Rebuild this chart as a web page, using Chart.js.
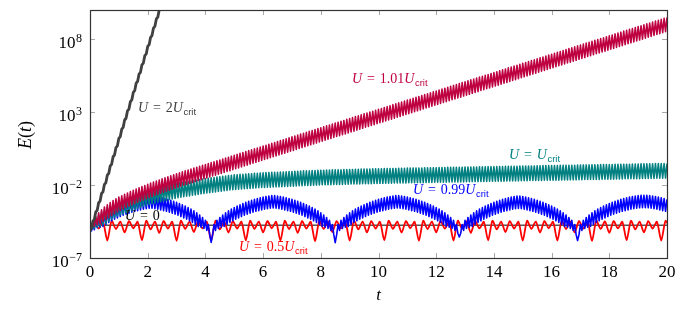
<!DOCTYPE html>
<html>
<head>
<meta charset="utf-8">
<script src="https://cdn.jsdelivr.net/npm/chart.js@4.4.0/dist/chart.umd.min.js"></script>
<style>
html, body { margin: 0; padding: 0; background: #fff; }
</style>
</head>
<body>
<canvas id="chart1" width="693" height="316"></canvas>
<script>
/* data: log10 of E(t). Fast curves are kept as peaks (at t = 0, 0.1, 0.2 ...)
   and troughs (at t = 0.05, 0.15 ...) */

var xTicks = [0, 2, 4, 6, 8, 10, 12, 14, 16, 18, 20];
var yTickExps = [-7, -2, 3, 8];

var dtHalf = 0.05;
var dtGray = 0.05;
var dtRed = 0.15;

// U = 2 U_crit
var logGray = [
  -5.1, -4.99, -4.47, -4.36, -3.84, -3.73, -3.21, -3.1, -2.58, -2.47,
  -1.95, -1.84, -1.32, -1.21, -0.69, -0.58, -0.06, 0.06, 0.57, 0.69,
  1.2, 1.32, 1.83, 1.95, 2.46, 2.58, 3.09, 3.21, 3.72, 3.84,
  4.35, 4.47, 4.98, 5.1, 5.61, 5.73, 6.24, 6.36, 6.87, 6.99,
  7.5, 7.62, 8.13, 8.25, 8.76, 8.88, 9.39, 9.51, 10.02, 10.14, 10.65
];

// U = 1.01 U_crit
var crimsonPeaks = [
  -5.1, -4.5, -4.15, -3.9, -3.7, -3.5, -3.35, -3.2, -3.07, -2.95, -2.83,
  -2.73, -2.63, -2.54, -2.45, -2.36, -2.27, -2.19, -2.11, -2.03, -1.95,
  -1.87, -1.8, -1.72, -1.65, -1.57, -1.5, -1.43, -1.36, -1.29, -1.22,
  -1.16, -1.09, -1.03, -0.97, -0.91, -0.84, -0.78, -0.72, -0.65, -0.59,
  -0.53, -0.46, -0.4, -0.34, -0.28, -0.21, -0.15, -0.09, -0.02, 0.04,
  0.1, 0.17, 0.23, 0.29, 0.36, 0.42, 0.48, 0.54, 0.61, 0.67,
  0.73, 0.8, 0.86, 0.92, 0.99, 1.05, 1.11, 1.17, 1.24, 1.3,
  1.36, 1.43, 1.49, 1.55, 1.62, 1.68, 1.74, 1.8, 1.87, 1.93,
  1.99, 2.06, 2.12, 2.18, 2.25, 2.31, 2.37, 2.43, 2.5, 2.56,
  2.62, 2.69, 2.75, 2.81, 2.88, 2.94, 3.0, 3.06, 3.13, 3.19,
  3.25, 3.32, 3.38, 3.44, 3.51, 3.57, 3.63, 3.69, 3.76, 3.82,
  3.88, 3.95, 4.01, 4.07, 4.14, 4.2, 4.26, 4.32, 4.39, 4.45,
  4.51, 4.58, 4.64, 4.7, 4.77, 4.83, 4.89, 4.95, 5.02, 5.08,
  5.14, 5.21, 5.27, 5.33, 5.4, 5.46, 5.52, 5.58, 5.65, 5.71,
  5.77, 5.84, 5.9, 5.96, 6.03, 6.09, 6.15, 6.21, 6.28, 6.34,
  6.4, 6.47, 6.53, 6.59, 6.66, 6.72, 6.78, 6.84, 6.91, 6.97,
  7.03, 7.1, 7.16, 7.22, 7.29, 7.35, 7.41, 7.47, 7.54, 7.6,
  7.66, 7.73, 7.79, 7.85, 7.92, 7.98, 8.04, 8.1, 8.17, 8.23,
  8.29, 8.36, 8.42, 8.48, 8.55, 8.61, 8.67, 8.73, 8.8, 8.86,
  8.92, 8.99, 9.05, 9.11, 9.18, 9.24, 9.3, 9.36, 9.43, 9.49
];
var crimsonTroughs = [
  -5.0, -4.82, -4.72, -4.65, -4.5, -4.37, -4.23, -4.09, -3.96, -3.84,
  -3.73, -3.63, -3.54, -3.45, -3.36, -3.27, -3.18, -3.1, -3.02, -2.94,
  -2.86, -2.79, -2.71, -2.64, -2.56, -2.49, -2.42, -2.35, -2.28, -2.21,
  -2.14, -2.08, -2.01, -1.95, -1.89, -1.83, -1.76, -1.7, -1.64, -1.57,
  -1.51, -1.45, -1.38, -1.32, -1.26, -1.2, -1.13, -1.07, -1.01, -0.94,
  -0.88, -0.82, -0.75, -0.69, -0.63, -0.56, -0.5, -0.44, -0.38, -0.31,
  -0.25, -0.19, -0.12, -0.06, 0.0, 0.07, 0.13, 0.19, 0.25, 0.32,
  0.38, 0.44, 0.51, 0.57, 0.63, 0.7, 0.76, 0.82, 0.88, 0.95,
  1.01, 1.07, 1.14, 1.2, 1.26, 1.33, 1.39, 1.45, 1.51, 1.58,
  1.64, 1.7, 1.77, 1.83, 1.89, 1.96, 2.02, 2.08, 2.14, 2.21,
  2.27, 2.33, 2.4, 2.46, 2.52, 2.59, 2.65, 2.71, 2.77, 2.84,
  2.9, 2.96, 3.03, 3.09, 3.15, 3.22, 3.28, 3.34, 3.4, 3.47,
  3.53, 3.59, 3.66, 3.72, 3.78, 3.85, 3.91, 3.97, 4.03, 4.1,
  4.16, 4.22, 4.29, 4.35, 4.41, 4.48, 4.54, 4.6, 4.66, 4.73,
  4.79, 4.85, 4.92, 4.98, 5.04, 5.11, 5.17, 5.23, 5.29, 5.36,
  5.42, 5.48, 5.55, 5.61, 5.67, 5.74, 5.8, 5.86, 5.92, 5.99,
  6.05, 6.11, 6.18, 6.24, 6.3, 6.37, 6.43, 6.49, 6.55, 6.62,
  6.68, 6.74, 6.81, 6.87, 6.93, 7.0, 7.06, 7.12, 7.18, 7.25,
  7.31, 7.37, 7.44, 7.5, 7.56, 7.63, 7.69, 7.75, 7.81, 7.88,
  7.94, 8.0, 8.07, 8.13, 8.19, 8.26, 8.32, 8.38, 8.44, 8.51
];

// U = U_crit
var tealPeaks = [
  -5.1, -4.65, -4.3, -4.05, -3.85, -3.68, -3.53, -3.4, -3.28, -3.17, -3.07,
  -3.0, -2.93, -2.85, -2.78, -2.71, -2.64, -2.57, -2.49, -2.42, -2.35,
  -2.3, -2.26, -2.21, -2.16, -2.12, -2.07, -2.02, -1.97, -1.93, -1.88,
  -1.85, -1.81, -1.78, -1.75, -1.72, -1.68, -1.65, -1.62, -1.58, -1.55,
  -1.53, -1.5, -1.48, -1.45, -1.43, -1.4, -1.38, -1.35, -1.33, -1.3,
  -1.29, -1.27, -1.26, -1.24, -1.23, -1.22, -1.2, -1.19, -1.17, -1.16,
  -1.15, -1.14, -1.13, -1.12, -1.12, -1.11, -1.1, -1.09, -1.08, -1.07,
  -1.06, -1.05, -1.04, -1.03, -1.03, -1.02, -1.01, -1.0, -0.99, -0.98,
  -0.98, -0.97, -0.97, -0.96, -0.96, -0.95, -0.95, -0.94, -0.94, -0.93,
  -0.93, -0.92, -0.92, -0.91, -0.91, -0.9, -0.9, -0.89, -0.89, -0.88,
  -0.88, -0.87, -0.87, -0.87, -0.86, -0.86, -0.85, -0.85, -0.85, -0.84,
  -0.84, -0.84, -0.83, -0.83, -0.83, -0.82, -0.82, -0.82, -0.81, -0.81,
  -0.8, -0.8, -0.8, -0.79, -0.79, -0.79, -0.78, -0.78, -0.78, -0.77,
  -0.77, -0.76, -0.76, -0.76, -0.75, -0.75, -0.75, -0.74, -0.74, -0.74,
  -0.73, -0.73, -0.73, -0.72, -0.72, -0.71, -0.71, -0.71, -0.7, -0.7,
  -0.7, -0.69, -0.69, -0.69, -0.68, -0.68, -0.67, -0.67, -0.67, -0.66,
  -0.66, -0.66, -0.65, -0.65, -0.65, -0.64, -0.64, -0.64, -0.63, -0.63,
  -0.62, -0.62, -0.62, -0.61, -0.61, -0.61, -0.6, -0.6, -0.6, -0.59,
  -0.59, -0.58, -0.58, -0.58, -0.57, -0.57, -0.57, -0.56, -0.56, -0.56,
  -0.55, -0.55, -0.55, -0.54, -0.54, -0.53, -0.53, -0.53, -0.52, -0.52
];
var tealTroughs = [
  -5.05, -4.97, -4.87, -4.8, -4.71, -4.61, -4.47, -4.34, -4.23, -4.12,
  -4.04, -3.97, -3.89, -3.82, -3.75, -3.68, -3.61, -3.53, -3.46, -3.39,
  -3.33, -3.28, -3.24, -3.19, -3.14, -3.1, -3.05, -3.0, -2.95, -2.91,
  -2.87, -2.83, -2.8, -2.77, -2.74, -2.7, -2.67, -2.64, -2.6, -2.57,
  -2.54, -2.52, -2.49, -2.47, -2.44, -2.42, -2.39, -2.37, -2.34, -2.32,
  -2.3, -2.28, -2.27, -2.25, -2.24, -2.23, -2.21, -2.2, -2.18, -2.17,
  -2.16, -2.15, -2.14, -2.13, -2.12, -2.12, -2.11, -2.1, -2.09, -2.08,
  -2.07, -2.06, -2.05, -2.04, -2.03, -2.03, -2.02, -2.01, -2.0, -1.99,
  -1.98, -1.98, -1.97, -1.97, -1.96, -1.96, -1.95, -1.95, -1.94, -1.94,
  -1.93, -1.93, -1.92, -1.92, -1.91, -1.91, -1.9, -1.9, -1.89, -1.89,
  -1.88, -1.88, -1.87, -1.87, -1.87, -1.86, -1.86, -1.85, -1.85, -1.85,
  -1.84, -1.84, -1.84, -1.83, -1.83, -1.83, -1.82, -1.82, -1.82, -1.81,
  -1.81, -1.8, -1.8, -1.8, -1.79, -1.79, -1.79, -1.78, -1.78, -1.78,
  -1.77, -1.77, -1.76, -1.76, -1.76, -1.75, -1.75, -1.75, -1.74, -1.74,
  -1.74, -1.73, -1.73, -1.73, -1.72, -1.72, -1.71, -1.71, -1.71, -1.7,
  -1.7, -1.7, -1.69, -1.69, -1.69, -1.68, -1.68, -1.67, -1.67, -1.67,
  -1.66, -1.66, -1.66, -1.65, -1.65, -1.65, -1.64, -1.64, -1.64, -1.63,
  -1.63, -1.62, -1.62, -1.62, -1.61, -1.61, -1.61, -1.6, -1.6, -1.6,
  -1.59, -1.59, -1.58, -1.58, -1.58, -1.57, -1.57, -1.57, -1.56, -1.56,
  -1.56, -1.55, -1.55, -1.55, -1.54, -1.54, -1.53, -1.53, -1.53, -1.52
];

// U = 0.99 U_crit
var bluePeaks = [
  -5.1, -4.7, -4.42, -4.22, -4.05, -3.9, -3.77, -3.65, -3.54, -3.44, -3.35,
  -3.26, -3.18, -3.11, -3.04, -2.98, -2.92, -2.87, -2.82, -2.78, -2.75,
  -2.72, -2.75, -2.78, -2.82, -2.87, -2.92, -2.98, -3.04, -3.11, -3.18,
  -3.26, -3.35, -3.44, -3.54, -3.65, -3.77, -3.9, -4.05, -4.22, -4.42,
  -4.7, -5.93, -4.7, -4.42, -4.22, -4.05, -3.9, -3.77, -3.65, -3.54,
  -3.44, -3.35, -3.26, -3.18, -3.11, -3.04, -2.98, -2.92, -2.87, -2.82,
  -2.78, -2.75, -2.72, -2.72, -2.75, -2.78, -2.82, -2.87, -2.92, -2.98,
  -3.04, -3.11, -3.18, -3.26, -3.35, -3.44, -3.54, -3.65, -3.77, -3.9,
  -4.05, -4.22, -4.42, -4.7, -5.95, -4.7, -4.42, -4.22, -4.05, -3.9,
  -3.77, -3.65, -3.54, -3.44, -3.35, -3.26, -3.18, -3.11, -3.04, -2.98,
  -2.92, -2.87, -2.82, -2.78, -2.75, -2.72, -2.72, -2.75, -2.78, -2.82,
  -2.87, -2.92, -2.98, -3.04, -3.11, -3.18, -3.26, -3.35, -3.44, -3.54,
  -3.65, -3.77, -3.9, -4.05, -4.22, -4.42, -4.7, -5.56, -4.7, -4.42,
  -4.22, -4.05, -3.9, -3.77, -3.65, -3.54, -3.44, -3.35, -3.26, -3.18,
  -3.11, -3.04, -2.98, -2.92, -2.87, -2.82, -2.78, -2.75, -2.75, -2.78,
  -2.82, -2.87, -2.92, -2.98, -3.04, -3.11, -3.18, -3.26, -3.35, -3.44,
  -3.54, -3.65, -3.77, -3.9, -4.05, -4.22, -4.42, -4.7, -5.8, -4.7,
  -4.42, -4.22, -4.05, -3.9, -3.77, -3.65, -3.54, -3.44, -3.35, -3.26,
  -3.18, -3.11, -3.04, -2.98, -2.92, -2.87, -2.82, -2.78, -2.75, -2.72,
  -2.7, -2.7, -2.7, -2.72, -2.75, -2.78, -2.82, -2.87, -2.92, -2.98
];
var blueTroughs = [
  -5.15, -5.06, -4.92, -4.89, -4.83, -4.69, -4.56, -4.45, -4.34, -4.25,
  -4.16, -4.07, -4.0, -3.93, -3.86, -3.8, -3.75, -3.7, -3.65, -3.62,
  -3.59, -3.59, -3.62, -3.65, -3.7, -3.75, -3.8, -3.86, -3.93, -4.0,
  -4.07, -4.16, -4.25, -4.34, -4.45, -4.56, -4.69, -4.83, -4.89, -4.97,
  -5.11, -5.4, -5.4, -5.11, -4.97, -4.89, -4.83, -4.69, -4.56, -4.45,
  -4.34, -4.25, -4.16, -4.07, -4.0, -3.93, -3.86, -3.8, -3.75, -3.7,
  -3.65, -3.62, -3.59, -3.57, -3.59, -3.62, -3.65, -3.7, -3.75, -3.8,
  -3.86, -3.93, -4.0, -4.07, -4.16, -4.25, -4.34, -4.45, -4.56, -4.69,
  -4.83, -4.89, -4.97, -5.11, -5.4, -5.4, -5.11, -4.97, -4.89, -4.83,
  -4.69, -4.56, -4.45, -4.34, -4.25, -4.16, -4.07, -4.0, -3.93, -3.86,
  -3.8, -3.75, -3.7, -3.65, -3.62, -3.59, -3.57, -3.59, -3.62, -3.65,
  -3.7, -3.75, -3.8, -3.86, -3.93, -4.0, -4.07, -4.16, -4.25, -4.34,
  -4.45, -4.56, -4.69, -4.83, -4.89, -4.97, -5.11, -5.3, -5.3, -5.11,
  -4.97, -4.89, -4.83, -4.69, -4.56, -4.45, -4.34, -4.25, -4.16, -4.07,
  -4.0, -3.93, -3.86, -3.8, -3.75, -3.7, -3.65, -3.62, -3.6, -3.62,
  -3.65, -3.7, -3.75, -3.8, -3.86, -3.93, -4.0, -4.07, -4.16, -4.25,
  -4.34, -4.45, -4.56, -4.69, -4.83, -4.89, -4.97, -5.11, -5.4, -5.4,
  -5.11, -4.97, -4.89, -4.83, -4.69, -4.56, -4.45, -4.34, -4.25, -4.16,
  -4.07, -4.0, -3.93, -3.86, -3.8, -3.75, -3.7, -3.65, -3.62, -3.59,
  -3.56, -3.55, -3.55, -3.56, -3.59, -3.62, -3.65, -3.7, -3.75, -3.8
];

// U = 0.5 U_crit
var logRed = [
  -5.2, -4.47, -4.98, -4.52, -5.8, -4.45, -5.02, -4.5, -5.25, -4.47,
  -4.96, -4.52, -5.78, -4.45, -5.04, -4.5, -5.28, -4.47, -4.98, -4.52,
  -5.82, -4.45, -5.0, -4.5, -5.22, -4.47, -4.97, -4.52, -5.8, -4.45,
  -5.03, -4.5, -5.26, -4.47, -4.99, -4.52, -5.79, -4.45, -5.01, -4.5,
  -5.24, -4.47, -4.96, -4.52, -5.81, -4.45, -5.02, -4.5, -5.27, -4.47,
  -4.98, -4.52, -5.85, -4.45, -5.0, -4.5, -5.23, -4.47, -4.97, -4.52,
  -5.8, -4.45, -5.03, -4.5, -5.25, -4.47, -4.99, -4.52, -5.78, -4.45,
  -5.01, -4.5, -5.26, -4.47, -4.96, -4.52, -5.82, -4.45, -5.02, -4.5,
  -5.24, -4.47, -4.98, -4.52, -5.8, -4.45, -5.0, -4.5, -5.28, -4.47,
  -4.97, -4.52, -5.79, -4.45, -5.03, -4.5, -5.22, -4.47, -4.99, -4.52,
  -5.81, -4.45, -5.01, -4.5, -5.26, -4.47, -4.96, -4.52, -5.8, -4.45,
  -5.02, -4.5, -5.25, -4.47, -4.98, -4.52, -5.83, -4.45, -5.0, -4.5,
  -5.27, -4.47, -4.97, -4.52, -5.78, -4.45, -5.03, -4.5, -5.24, -4.47,
  -4.99, -4.52, -5.8, -4.45, -5.01
];

// U = 0
var tZero = [0, 20];
var logZero = [-4.75, -4.75];


/* build points */

function toPoints(logs, dt) {
  var pts = [];
  for (var i = 0; i < logs.length; i++) {
    pts.push({ x: i * dt, y: Math.pow(10, logs[i]) });
  }
  return pts;
}

// alternate peak, trough, peak ...
function zigzag(peaks, troughs, dt) {
  var pts = [];
  for (var k = 0; k < peaks.length + troughs.length; k++) {
    var v = (k % 2 === 0) ? peaks[k / 2] : troughs[(k - 1) / 2];
    pts.push({ x: k * dt, y: Math.pow(10, v) });
  }
  return pts;
}

var zeroPts = [];
for (var z = 0; z < tZero.length; z++) {
  zeroPts.push({ x: tZero[z], y: Math.pow(10, logZero[z]) });
}

var GRAY = '#404040';
var CRIMSON = '#bf0040';
var TEAL = '#008080';
var BLUE = '#0000ff';
var RED = '#ff0000';

function line(data, color, width, tension) {
  return {
    data: data,
    borderColor: color,
    borderWidth: width,
    borderJoinStyle: 'round',
    pointRadius: 0,
    tension: tension || 0,
    fill: false
  };
}

/* first dataset is drawn on top */
var datasets = [
  line(toPoints(logGray, dtGray), GRAY, 2.8),
  line(zigzag(crimsonPeaks, crimsonTroughs, dtHalf), CRIMSON, 1.6),
  line(zigzag(tealPeaks, tealTroughs, dtHalf), TEAL, 1.6),
  line(zigzag(bluePeaks, blueTroughs, dtHalf), BLUE, 1.6),
  line(toPoints(logRed, dtRed), RED, 1.8, 0.25),
  line(zeroPts, '#000', 1)
];


/* text helpers */

var SERIF = '"Liberation Serif", "DejaVu Serif", serif';
var SANS = '"Liberation Sans", "DejaVu Sans", sans-serif';

function pieceFont(kind, size) {
  if (kind === 'i') return 'italic ' + size + 'px ' + SERIF;
  if (kind === 's') return (size * 0.68) + 'px ' + SANS;
  return size + 'px ' + SERIF;
}

function piecesWidth(ctx, parts, size) {
  var w = 0;
  parts.forEach(function (p) {
    if (p[0] === 'eq') {
      ctx.font = pieceFont('r', size);
      w += ctx.measureText('=').width + size * 0.7;
    } else {
      ctx.font = pieceFont(p[0], size);
      w += ctx.measureText(p[1]).width;
    }
  });
  return w;
}

function drawPieces(ctx, x, y, parts, size) {
  parts.forEach(function (p) {
    if (p[0] === 'eq') {
      ctx.font = pieceFont('r', size);
      x += size * 0.35;
      ctx.fillText('=', x, y);
      x += ctx.measureText('=').width + size * 0.35;
    } else if (p[0] === 's') {
      ctx.font = pieceFont('s', size);
      ctx.fillText(p[1], x + 0.5, y + size * 0.22);
      x += ctx.measureText(p[1]).width + 0.5;
    } else {
      ctx.font = pieceFont(p[0], size);
      ctx.fillText(p[1], x, y);
      x += ctx.measureText(p[1]).width;
    }
  });
}

var curveLabels = [
  { x: 138, y: 112, color: GRAY, parts: [['i', 'U'], ['eq'], ['r', '2'], ['i', 'U'], ['s', 'crit']] },
  { x: 352, y: 83, color: CRIMSON, parts: [['i', 'U'], ['eq'], ['r', '1.01'], ['i', 'U'], ['s', 'crit']] },
  { x: 509, y: 159, color: TEAL, parts: [['i', 'U'], ['eq'], ['i', 'U'], ['s', 'crit']] },
  { x: 413, y: 194, color: BLUE, parts: [['i', 'U'], ['eq'], ['r', '0.99'], ['i', 'U'], ['s', 'crit']] },
  { x: 239, y: 251, color: RED, parts: [['i', 'U'], ['eq'], ['r', '0.5'], ['i', 'U'], ['s', 'crit']] },
  { x: 125, y: 219.5, color: '#000', parts: [['i', 'U'], ['eq'], ['r', '0']] }
];


/* axes, ticks and labels drawn over the plot */

var axisPlugin = {
  id: 'axisPlugin',
  afterDraw: function (chart) {
    var ctx = chart.ctx;
    var a = chart.chartArea;
    var xs = chart.scales.x;
    var ys = chart.scales.y;
    ctx.save();

    // curve labels
    ctx.textAlign = 'left';
    ctx.textBaseline = 'alphabetic';
    curveLabels.forEach(function (l) {
      ctx.fillStyle = l.color;
      drawPieces(ctx, l.x, l.y, l.parts, 14);
    });

    // ticks (inside)
    ctx.strokeStyle = '#a8a8a8';
    ctx.lineWidth = 1;
    ctx.beginPath();
    xTicks.forEach(function (t) {
      var px = Math.round(xs.getPixelForValue(t)) + 0.5;
      ctx.moveTo(px, a.bottom); ctx.lineTo(px, a.bottom - 5);
      ctx.moveTo(px, a.top); ctx.lineTo(px, a.top + 5);
    });
    yTickExps.forEach(function (e) {
      var py = Math.round(ys.getPixelForValue(Math.pow(10, e))) + 0.5;
      ctx.moveTo(a.left, py); ctx.lineTo(a.left + 5, py);
      ctx.moveTo(a.right, py); ctx.lineTo(a.right - 5, py);
    });
    ctx.stroke();

    // frame
    ctx.strokeStyle = '#333';
    ctx.lineWidth = 1.2;
    ctx.strokeRect(a.left + 0.5, a.top + 0.5, a.right - a.left, a.bottom - a.top);

    // x tick labels
    ctx.fillStyle = '#000';
    ctx.font = '17px ' + SERIF;
    ctx.textAlign = 'center';
    xTicks.forEach(function (t) {
      ctx.fillText(String(t), xs.getPixelForValue(t), 277);
    });

    // y tick labels 10^e
    ctx.textAlign = 'right';
    yTickExps.forEach(function (e) {
      var py = ys.getPixelForValue(Math.pow(10, e));
      var ex = (e < 0 ? '\u2212' : '') + Math.abs(e);
      ctx.font = '12px ' + SERIF;
      var ew = ctx.measureText(ex).width;
      ctx.fillText(ex, 82, py + 3);
      ctx.font = '17px ' + SERIF;
      ctx.fillText('10', 82 - ew - 0.5, py + 9);
    });

    // axis titles
    ctx.textAlign = 'left';
    ctx.font = 'italic 17px ' + SERIF;
    var tw = ctx.measureText('t').width;
    ctx.fillText('t', xs.getPixelForValue(10) - tw / 2, 300);

    var yParts = [['i', 'E'], ['r', '('], ['i', 't'], ['r', ')']];
    var yw = piecesWidth(ctx, yParts, 18);
    ctx.translate(31, 135);
    ctx.rotate(-Math.PI / 2);
    drawPieces(ctx, -yw / 2, 0, yParts, 18);

    ctx.restore();
  }
};


/* chart */

var ctx1 = document.getElementById('chart1').getContext('2d');

var myChart = new Chart(ctx1, {
  type: 'line',
  data: { datasets: datasets },
  options: {
    responsive: false,
    animation: false,
    layout: { padding: { left: 90, top: 10, right: 26, bottom: 58 } },
    plugins: {
      legend: { display: false },
      tooltip: { enabled: false }
    },
    scales: {
      x: { type: 'linear', min: 0, max: 20, display: false },
      y: { type: 'logarithmic', min: 1e-7, max: 1e10, display: false }
    }
  },
  plugins: [axisPlugin]
});
</script>
</body>
</html>
